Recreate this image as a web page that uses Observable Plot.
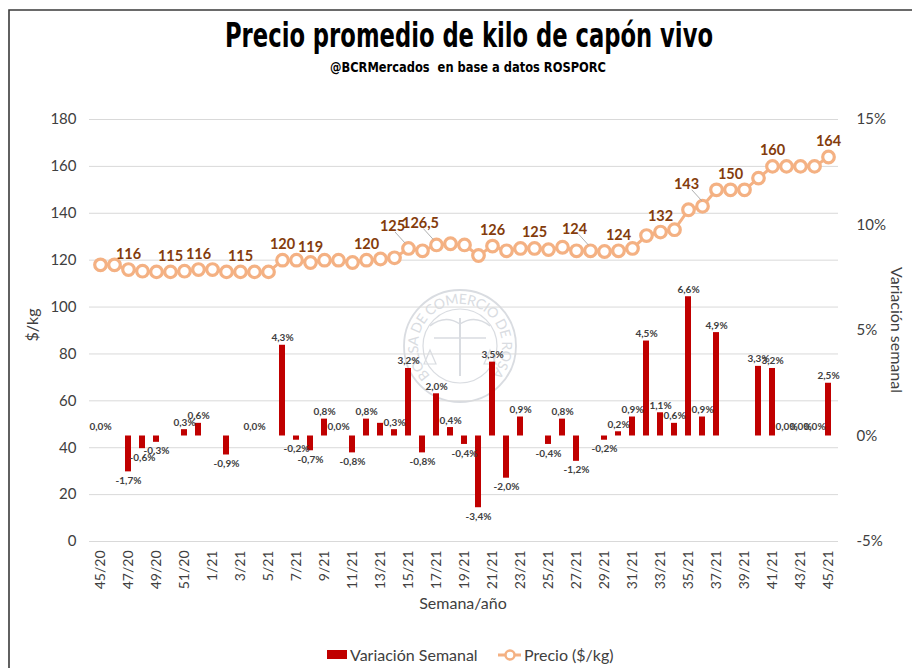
<!DOCTYPE html>
<html><head><meta charset="utf-8">
<script src="https://cdn.jsdelivr.net/npm/d3@7"></script>
<script src="https://cdn.jsdelivr.net/npm/@observablehq/plot@0.6"></script>
<style>
body{margin:0;background:#fff}
#chart{position:relative;width:912px;height:668px}
</style>
</head><body><div id="chart"></div>
<script>
const semanas = ["45/20","46/20","47/20","48/20","49/20","50/20","51/20","52/20",
  "1/21","2/21","3/21","4/21","5/21","6/21","7/21","8/21","9/21","10/21","11/21","12/21",
  "13/21","14/21","15/21","16/21","17/21","18/21","19/21","20/21","21/21","22/21","23/21",
  "24/21","25/21","26/21","27/21","28/21","29/21","30/21","31/21","32/21","33/21","34/21",
  "35/21","36/21","37/21","38/21","39/21","40/21","41/21","42/21","43/21","44/21","45/21"];
const precio = [118,118,116,115.3,115,115,115.3,116,116,115,115,115,115,120,120,119,120,120,119,120,
  120.5,121,125,124,126.5,127,126.5,122,126,124,125,125,124.5,125.5,124,124,123.7,124,125,130.5,
  132,133,141.5,143,150,150,150,155,160,160,160,160,164];
const variacion = [0,null,-1.7,-0.6,-0.3,null,0.3,0.6,null,-0.9,null,0,null,4.3,-0.2,-0.7,0.8,0,-0.8,0.8,
  0.6,0.3,3.2,-0.8,2.0,0.4,-0.4,-3.4,3.5,-2.0,0.9,null,-0.4,0.8,-1.2,null,-0.2,0.2,0.9,4.5,
  1.1,0.6,6.6,0.9,4.9,null,null,3.3,3.2,0,0,0,2.5];
const indicesEtiquetaPrecio = [2,5,7,10,13,15,19,22,24,28,31,35,37,40,43,45,48,52];
const indicesConGuia = [22,24,35,43];
const indicesSinEtiquetaVar = [20];
const ticksPrecio = [0,20,40,60,80,100,120,140,160,180];
const ticksVariacion = [-5,0,5,10,15];

// right axis mapping: 0% -> 45, 5% -> 90
const toY = v => 45 + v * 9;
const fmtPct = v => v.toFixed(1).replace(".", ",") + "%";
const fmtPrecio = v => Number.isInteger(v) ? String(v) : String(v).replace(".", ",");

const datos = semanas.map((s, i) => ({semana: s, i, precio: precio[i], v: variacion[i]}));
const barras = datos.filter(d => d.v !== null);
const etiqVar = barras.filter(d => !indicesSinEtiquetaVar.includes(d.i));
const etiqPrecio = datos.filter(d => indicesEtiquetaPrecio.includes(d.i));

const FONT = "Lato, 'Open Sans', sans-serif";
const ORANGE = "#F4B183", BROWN = "#843C0C", RED = "#C00000", GRAY = "#404040";
const W = 912, H = 668, ML = 89, MR = 74, MT = 119, MB = 127;
const xOpts = {type: "band", domain: semanas, paddingInner: 0.58, paddingOuter: 0.29};
const yOpts = {domain: [0, 180]};

const plot = Plot.plot({
  width: W, height: H,
  marginLeft: ML, marginRight: MR, marginTop: MT, marginBottom: MB,
  style: {fontFamily: FONT, color: GRAY, background: "white", overflow: "visible"},
  x: {...xOpts, axis: null},
  y: {...yOpts, axis: null},
  marks: [
    Plot.gridY(ticksPrecio, {stroke: "#D9D9D9", strokeOpacity: 1, strokeWidth: 1}),
    Plot.axisY(ticksPrecio, {anchor: "left", tickSize: 0, tickPadding: 13, fontSize: 15, label: null, fill: GRAY}),
    Plot.axisY(ticksVariacion.map(toY), {anchor: "right", tickSize: 0, tickPadding: 18, fontSize: 15,
      label: null, fill: GRAY, tickFormat: d => Math.round((d - 45) / 9) + "%"}),
    Plot.axisX(semanas.filter((d, i) => i % 2 === 0), {anchor: "bottom", tickRotate: -90, tickSize: 0,
      tickPadding: 9, fontSize: 14, label: null, fill: GRAY}),
    Plot.barY(barras, {x: "semana", y1: d => 45, y2: d => toY(d.v), fill: RED}),
    Plot.text(etiqVar.filter(d => d.v > 0), {x: "semana", y: d => toY(d.v), text: d => fmtPct(d.v),
      lineAnchor: "bottom", dy: -4, fontSize: 10, fontWeight: "bold", fill: GRAY}),
    Plot.text(etiqVar.filter(d => d.v < 0), {x: "semana", y: d => toY(d.v), text: d => fmtPct(d.v),
      lineAnchor: "top", dy: 5, fontSize: 10, fontWeight: "bold", fill: GRAY}),
    Plot.text(etiqVar.filter(d => d.v === 0), {x: "semana", y: d => toY(0), text: d => fmtPct(d.v),
      lineAnchor: "bottom", dy: -6, fontSize: 10, fontWeight: "bold", fill: GRAY}),
    Plot.line(datos, {x: "semana", y: "precio", stroke: ORANGE, strokeWidth: 3}),
    Plot.dot(datos, {x: "semana", y: "precio", r: 5.8, stroke: ORANGE, strokeWidth: 3.2, fill: "white"}),
    Plot.text(etiqPrecio.filter(d => !indicesConGuia.includes(d.i)), {x: "semana", y: "precio",
      text: d => fmtPrecio(d.precio), lineAnchor: "bottom", dy: -11, fontSize: 14.5, fontWeight: "bold", fill: BROWN}),
    Plot.text(etiqPrecio.filter(d => indicesConGuia.includes(d.i)), {x: "semana", y: "precio",
      text: d => fmtPrecio(d.precio), lineAnchor: "bottom", dx: -16, dy: -17, fontSize: 14.5, fontWeight: "bold", fill: BROWN})
  ]
});

document.getElementById("chart").appendChild(plot);
const svg = d3.select(plot);

// leader lines for offset price labels, positioned with Plot's own scales
try {
  const sx = Plot.scale({x: {...xOpts, range: [ML, W - MR]}});
  const sy = Plot.scale({y: {...yOpts, range: [H - MB, MT]}});
  const bw = sx.bandwidth || 0;
  const gl = svg.append("g").attr("stroke", "#A6A6A6").attr("stroke-width", 0.9).attr("fill", "none");
  etiqPrecio.filter(d => indicesConGuia.includes(d.i)).forEach(d => {
    const px = sx.apply(d.semana) + bw / 2, py = sy.apply(d.precio);
    gl.append("line").attr("x1", px - 12).attr("y1", py - 16).attr("x2", px - 2).attr("y2", py - 5);
  });
} catch (e) {}

// watermark (seal) behind the marks
const wm = svg.insert("g", "g").attr("opacity", 0.5);
const cx = 460, cy = 346, WC = "#B4BAC4";
wm.append("circle").attr("cx", cx).attr("cy", cy).attr("r", 56).attr("fill", "none").attr("stroke", WC).attr("stroke-width", 1.8);
wm.append("circle").attr("cx", cx).attr("cy", cy).attr("r", 37).attr("fill", "none").attr("stroke", WC).attr("stroke-width", 1.2);
const rr = 42, a0 = -135 * Math.PI / 180, a1 = 135 * Math.PI / 180;
wm.append("path").attr("id", "sealpath").attr("fill", "none")
  .attr("d", `M${cx + rr * Math.sin(a0)},${cy - rr * Math.cos(a0)} A${rr},${rr} 0 1 1 ${cx + rr * Math.sin(a1)},${cy - rr * Math.cos(a1)}`);
wm.append("text").attr("font-family", FONT).attr("font-size", 14).attr("fill", WC).attr("text-anchor", "start")
  .append("textPath").attr("href", "#sealpath").attr("startOffset", 0).attr("textLength", 218).attr("lengthAdjust", "spacing")
  .text("BOLSA DE COMERCIO DE ROSARIO");
wm.append("line").attr("x1", cx).attr("x2", cx).attr("y1", cy - 28).attr("y2", cy + 30).attr("stroke", WC).attr("stroke-width", 2);
wm.append("line").attr("x1", cx - 26).attr("x2", cx + 26).attr("y1", cy - 8).attr("y2", cy - 8).attr("stroke", WC).attr("stroke-width", 1.5);
wm.append("path").attr("d", `M${cx-30},${cy-20} Q${cx-15},${cy-32} ${cx},${cy-22} Q${cx+15},${cy-32} ${cx+30},${cy-20}`).attr("fill", "none").attr("stroke", WC).attr("stroke-width", 1.5);
wm.append("path").attr("d", `M${cx-30},${cy+4} l-6,14 h12 z M${cx+30},${cy+4} l-6,14 h12 z`).attr("fill", "none").attr("stroke", WC).attr("stroke-width", 1.2);

// frame
svg.append("path").attr("d", "M9,668 V10 H912").attr("fill", "none").attr("stroke", "#3a3a3a").attr("stroke-width", 1.6);

// title & subtitle
const TFONT = "'Liberation Sans Narrow', 'DejaVu Sans Condensed', 'Roboto Condensed', Roboto, sans-serif";
svg.append("text").attr("x", 469).attr("y", 47).attr("text-anchor", "middle")
  .attr("font-family", TFONT).attr("font-weight", "bold").attr("font-size", 34).attr("fill", "#000")
  .attr("textLength", 488).attr("lengthAdjust", "spacingAndGlyphs")
  .text("Precio promedio de kilo de capón vivo");
svg.append("text").attr("x", 468).attr("y", 72).attr("text-anchor", "middle")
  .attr("font-family", TFONT).attr("font-weight", "bold").attr("font-size", 14).attr("fill", "#000")
  .attr("textLength", 276).attr("lengthAdjust", "spacingAndGlyphs")
  .text("@BCRMercados  en base a datos ROSPORC");

// axis titles
svg.append("text").attr("transform", "translate(38,325) rotate(-90)").attr("text-anchor", "middle")
  .attr("font-family", FONT).attr("font-size", 16).attr("fill", GRAY).text("$/kg");
svg.append("text").attr("transform", "translate(891,330) rotate(90)").attr("text-anchor", "middle")
  .attr("font-family", FONT).attr("font-size", 16).attr("fill", GRAY).text("Variación semanal");
svg.append("text").attr("x", 463).attr("y", 609).attr("text-anchor", "middle")
  .attr("font-family", FONT).attr("font-size", 16).attr("fill", GRAY).text("Semana/año");

// legend
const lg = svg.append("g").attr("font-family", FONT).attr("font-size", 16).attr("fill", GRAY).attr("text-anchor", "start");
lg.append("rect").attr("x", 327).attr("y", 650).attr("width", 20).attr("height", 9).attr("fill", RED);
lg.append("text").attr("x", 350).attr("y", 661).attr("text-anchor", "start").text("Variación Semanal");
lg.append("line").attr("x1", 498).attr("x2", 521).attr("y1", 655).attr("y2", 655).attr("stroke", ORANGE).attr("stroke-width", 3);
lg.append("circle").attr("cx", 510).attr("cy", 655).attr("r", 4.5).attr("fill", "white").attr("stroke", ORANGE).attr("stroke-width", 2.5);
lg.append("text").attr("x", 524).attr("y", 661).attr("text-anchor", "start").text("Precio ($/kg)");
</script>
</body></html>
